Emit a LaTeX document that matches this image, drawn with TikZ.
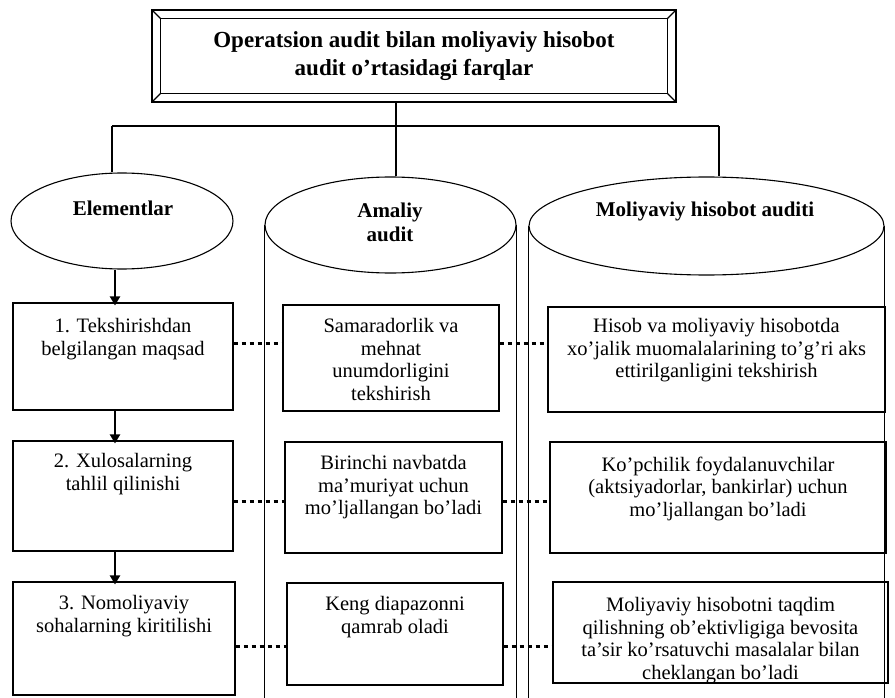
\documentclass[tikz,border=0pt]{standalone}
\usepackage{fontspec}
\setmainfont{Liberation Serif}
\usetikzlibrary{arrows.meta,shapes.geometric}
\begin{document}
\begin{tikzpicture}[x=1pt,y=-1pt,
 line/.style={line width=1.1pt},
 box/.style={draw,line width=1.1pt,rectangle,inner sep=0},
 txt/.style={align=center,inner sep=0,anchor=north,font=\fontsize{20.5}{22.5}\selectfont},
 lbl/.style={align=center,inner sep=0,font=\bfseries\fontsize{21}{24}\selectfont},
 ell/.style={draw,line width=1.1pt,ellipse,inner sep=0},
 dotline/.style={line width=3pt,dash pattern=on 4pt off 4pt},
 arr/.style={line width=2pt,-{Triangle[length=9pt,width=10pt]}}]
\useasboundingbox (0,0) rectangle (895,698);
\coordinate (bot) at (0,698);
\coordinate (ax) at (115,0);
% title
\node[box,minimum width=524pt,minimum height=92pt,align=center,
  font=\bfseries\fontsize{23}{28}\selectfont] (title) at (414,56)
  {Operatsion audit bilan moliyaviy hisobot\\audit o’rtasidagi farqlar};
\draw[line] ([shift={(9,9)}]title.north west) rectangle ([shift={(-9,-9)}]title.south east);
\draw[line] (title.north west) -- ([shift={(9,9)}]title.north west);
\draw[line] (title.north east) -- ([shift={(-9,9)}]title.north east);
\draw[line] (title.south west) -- ([shift={(9,-9)}]title.south west);
\draw[line] (title.south east) -- ([shift={(-9,-9)}]title.south east);
% ellipses / cylinders
\node[ell,minimum width=222pt,minimum height=96pt] (le) at (122,221) {};
\node[ell,minimum width=251pt,minimum height=96pt] (me) at (390.5,225) {};
\node[ell,minimum width=355pt,minimum height=98pt] (re) at (706.5,226) {};
\node[lbl] (lel) at (123,208) {Elementlar};
\node[lbl] (mel) at (390,222) {Amaliy\\audit};
\node[lbl] (rel) at (705,211) {Moliyaviy hisobot auditi};
\draw[line] (me.west) -- (me.west |- bot);
\draw[line] (me.east) -- (me.east |- bot);
\draw[line] (re.west) -- (re.west |- bot);
\draw[line] (re.east) -- (re.east |- bot);
% tree connectors
\coordinate (h1) at (112,126);
\coordinate (h2) at (719,126);
\coordinate (hm) at (396,126);
\draw[line] (h1) -- (h2);
\draw[line] (title.south -| hm) -- (hm |- me.north);
\draw[line] (h1) -- (h1 |- le.north);
\draw[line] (h2) -- (h2 |- re.north);
% boxes
\node[box,minimum width=220pt,minimum height=107pt] (l1) at (123,356.5) {};
\node[box,minimum width=220pt,minimum height=110pt] (l2) at (123,496) {};
\node[box,minimum width=222pt,minimum height=113pt] (l3) at (124,638.5) {};
\node[box,minimum width=216pt,minimum height=106pt] (m1) at (391,358) {};
\node[box,minimum width=217pt,minimum height=111pt] (m2) at (393.5,497.5) {};
\node[box,minimum width=216pt,minimum height=102pt] (m3) at (395,634) {};
\node[box,minimum width=337pt,minimum height=105pt] (r1) at (716.5,359.5) {};
\node[box,minimum width=336pt,minimum height=111pt] (r2) at (718,497.5) {};
\node[box,minimum width=335pt,minimum height=101pt] (r3) at (720.5,632.5) {};
% texts
\node[txt] (t1) at ([yshift=-16pt]l1.north) {1. Tekshirishdan\\belgilangan maqsad};
\node[txt] (t2) at ([yshift=-13pt]l2.north) {2. Xulosalarning\\tahlil qilinishi};
\node[txt] (t3) at ([yshift=-14pt]l3.north) {3. Nomoliyaviy\\sohalarning kiritilishi};
\node[txt] (u1) at ([yshift=-14pt]m1.north) {Samaradorlik va\\mehnat\\unumdorligini\\tekshirish};
\node[txt] (u2) at ([yshift=-14pt]m2.north) {Birinchi navbatda\\ma’muriyat uchun\\mo’ljallangan bo’ladi};
\node[txt] (u3) at ([yshift=-14pt]m3.north) {Keng diapazonni\\qamrab oladi};
\node[txt] (v1) at ([yshift=-12pt]r1.north) {Hisob va moliyaviy hisobotda\\xo’jalik muomalalarining to’g’ri aks\\ettirilganligini tekshirish};
\node[txt] (v2) at ([yshift=-15pt]r2.north) {Ko’pchilik foydalanuvchilar\\(aktsiyadorlar, bankirlar) uchun\\mo’ljallangan bo’ladi};
\node[txt] (v3) at ([yshift=-16pt]r3.north) {Moliyaviy hisobotni taqdim\\qilishning ob’ektivligiga bevosita\\ta’sir ko’rsatuvchi masalalar bilan\\cheklangan bo’ladi};
% arrows
\draw[arr] (le.south -| ax) -- ([yshift=-3pt]l1.north -| ax);
\draw[arr] (l1.south -| ax) -- ([yshift=-3pt]l2.north -| ax);
\draw[arr] (l2.south -| ax) -- ([yshift=-3pt]l3.north -| ax);
% dotted links
\draw[dotline] (l1.east |- 0,343) -- (m1.west |- 0,343);
\draw[dotline] (m1.east |- 0,343) -- (r1.west |- 0,343);
\draw[dotline] (l2.east |- 0,501) -- (m2.west |- 0,501);
\draw[dotline] (m2.east |- 0,501) -- (r2.west |- 0,501);
\draw[dotline] (l3.east |- 0,646) -- (m3.west |- 0,646);
\draw[dotline] (m3.east |- 0,646) -- (r3.west |- 0,646);
\end{tikzpicture}
\end{document}
